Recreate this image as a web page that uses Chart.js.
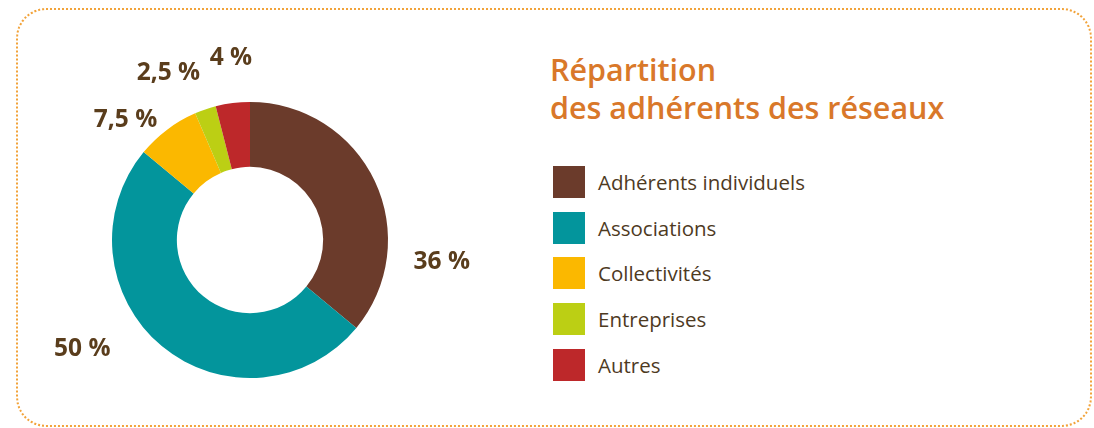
<!DOCTYPE html>
<html>
<head>
<meta charset="utf-8">
<title>Répartition des adhérents des réseaux</title>
<style>
  html, body { margin: 0; padding: 0; background: #fff; }
  body { width: 1094px; height: 428px; position: relative; overflow: hidden; font-family: "Open Sans", Arial, sans-serif; }
  .frame { position: absolute; left: 16px; top: 8px; width: 1076px; height: 419px; box-sizing: border-box;
           border: 2px dotted #f2a33a; border-radius: 30px; }
  #wrap { position: absolute; left: 0; top: 0; width: 500px; height: 428px; }
  h1 { position: absolute; left: 550px; top: 50px; margin: 0; font-size: 30.5px; line-height: 38px;
       font-weight: 600; color: #d9782a; }
  #legend { position: absolute; left: 553px; top: 166px; margin: 0; padding: 0; list-style: none; }
  #legend li { height: 45.7px; display: flex; align-items: flex-start; font-size: 20.5px; color: #4e3a1f; }
  #legend span.box { width: 32px; height: 32px; margin-right: 13px; flex: none; }
  #legend span.txt { line-height: 32px; }
</style>
</head>
<body>
<div class="frame"></div>
<div id="wrap"><canvas id="chart"></canvas></div>
<h1>Répartition<br>des adhérents des réseaux</h1>
<ul id="legend"></ul>
<script src="https://cdn.jsdelivr.net/npm/chart.js"></script>
<script>
var categories = ['Adhérents individuels', 'Associations', 'Collectivités', 'Entreprises', 'Autres'];
var values = [36, 50, 7.5, 2.5, 4];
var valueLabels = ['36 %', '50 %', '7,5 %', '2,5 %', '4 %'];
var colors = ['#6b3b2b', '#03959c', '#fbb800', '#bccf14', '#bd282a'];

// where each percent label sits: direction (degrees clockwise from top) and gap beyond the outer edge
var labelPlacement = [[96.5, 55], [237, 62], [314, 35], [334, 48], [354, 45]];

var outsideLabels = {
    id: 'outsideLabels',
    afterDraw: function(chart) {
        var c = chart.ctx;
        var arcs = chart.getDatasetMeta(0).data;
        c.save();
        c.font = 'bold 24.5px "Open Sans", Arial, sans-serif';
        c.fillStyle = '#5a3d1c';
        c.textAlign = 'center';
        c.textBaseline = 'middle';
        arcs.forEach(function(arc, i) {
            var p = arc.getProps(['x', 'y', 'outerRadius'], true);
            var a = labelPlacement[i][0] * Math.PI / 180;
            var r = p.outerRadius + labelPlacement[i][1];
            c.fillText(valueLabels[i], p.x + Math.sin(a) * r, p.y - Math.cos(a) * r);
        });
        c.restore();
    }
};

var ctx = document.getElementById('chart').getContext('2d');
var chart = new Chart(ctx, {
    type: 'doughnut',
    data: {
        labels: categories,
        datasets: [{
            data: values,
            backgroundColor: colors,
            borderWidth: 0
        }]
    },
    options: {
        responsive: true,
        maintainAspectRatio: false,
        animation: false,
        cutout: '53%',
        layout: { padding: { left: 112, right: 112, top: 102, bottom: 50 } },
        plugins: {
            legend: { display: false },
            tooltip: { enabled: false }
        }
    },
    plugins: [outsideLabels]
});

var legend = document.getElementById('legend');
categories.forEach(function(name, i) {
    var li = document.createElement('li');
    li.innerHTML = '<span class="box" style="background:' + colors[i] + '"></span><span class="txt">' + name + '</span>';
    legend.appendChild(li);
});
</script>
</body>
</html>
